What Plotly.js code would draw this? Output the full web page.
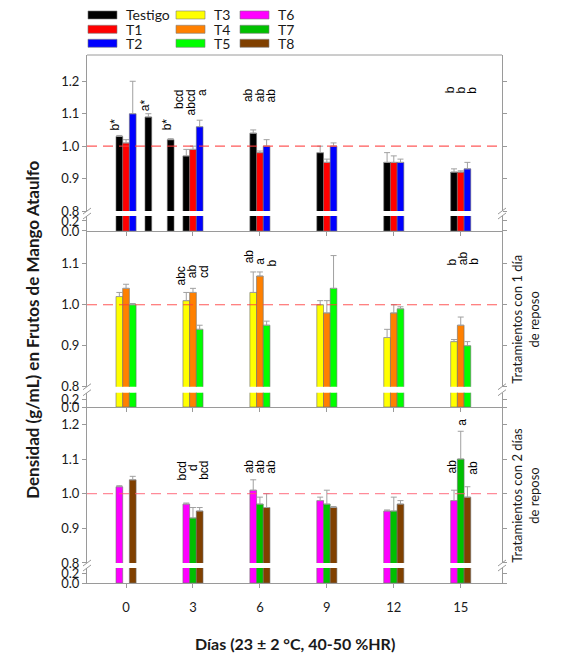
<!DOCTYPE html>
<html>
<head>
<meta charset="utf-8">
<script src="https://cdn.plot.ly/plotly-3.0.1.min.js"></script>
<style>
  html, body { margin: 0; padding: 0; background: #ffffff; }
  #chart { width: 569px; height: 655px; }
</style>
</head>
<body>
<div id="chart"></div>
<script>

// Days of storage
const days = [0, 3, 6, 9, 12, 15];
const testigoDays = [0, 1, 2, 3, 6, 9, 12, 15];
const t7Days = [3, 6, 9, 12, 15];

// Density (g/mL) and upper error bar of every treatment
const testigo = [1.03, 1.09, 1.02, 0.97, 1.04, 0.98, 0.95, 0.92];
const testigoErr = [0.003, 0.01, 0.003, 0.02, 0.01, 0.02, 0.03, 0.01];
const t1 = [1.01, 0.99, 0.98, 0.95, 0.95, 0.92];
const t1Err = [0.01, 0.01, 0.005, 0.01, 0.02, 0.004];
const t2 = [1.10, 1.06, 1.00, 1.00, 0.95, 0.93];
const t2Err = [0.10, 0.02, 0.02, 0.01, 0.01, 0.02];
const t3 = [1.02, 1.01, 1.03, 1.00, 0.92, 0.91];
const t3Err = [0.01, 0.02, 0.05, 0.01, 0.02, 0.005];
const t4 = [1.04, 1.03, 1.07, 0.98, 0.98, 0.95];
const t4Err = [0.01, 0.01, 0.01, 0.03, 0.02, 0.02];
const t5 = [1.00, 0.94, 0.95, 1.04, 0.99, 0.90];
const t5Err = [0.003, 0.01, 0.01, 0.08, 0.005, 0.01];
const t6 = [1.02, 0.97, 1.01, 0.98, 0.95, 0.98];
const t6Err = [0.003, 0.003, 0.03, 0.01, 0.003, 0.03];
const t7 = [0.93, 0.97, 0.97, 0.95, 1.10];
const t7Err = [0.03, 0.02, 0.04, 0.04, 0.08];
const t8 = [1.04, 0.95, 0.96, 0.96, 0.97, 0.99];
const t8Err = [0.01, 0.01, 0.04, 0.003, 0.01, 0.03];

const names = ['Testigo', 'T1', 'T2', 'T3', 'T4', 'T5', 'T6', 'T7', 'T8'];
const colors = ['#000000', '#ff0000', '#0000ff', '#ffff00', '#ff8000', '#00ff00', '#ff00ff', '#00c000', '#804000'];

const sideTexts = ['', 'Tratamientos con 1 día<br>de reposo', 'Tratamientos con 2 días<br>de reposo'];

// Significance letters: [day, slot, text, density at lower end of text]
const letters1 = [
  [0, -1, 'b*', 1.045], [1, -0.35, 'a*', 1.106], [2, -0.35, 'b*', 1.045],
  [3, -1.2, 'bcd', 1.112], [3, -0.2, 'abcd', 1.091], [3, 0.8, 'a', 1.153],
  [6, -1, 'ab', 1.132], [6, 0, 'ab', 1.132], [6, 1, 'ab', 1.132],
  [15, -1, 'b', 1.16], [15, 0, 'b', 1.16], [15, 1, 'b', 1.16]
];
const letters2 = [
  [3, -1.1, 'abc', 1.045], [3, -0.1, 'ab', 1.062], [3, 1, 'cd', 1.062],
  [6, -1, 'ab', 1.098], [6, 0, 'a', 1.096], [6, 1.1, 'b', 1.09],
  [15, -0.8, 'b', 1.094], [15, 0.2, 'ab', 1.094], [15, 1.2, 'b', 1.094]
];
const letters3 = [
  [3, -1, 'bcd', 1.036], [3, 0, 'd', 1.064], [3, 1, 'bcd', 1.036],
  [6, -1, 'ab', 1.055], [6, 0, 'ab', 1.055], [6, 1, 'ab', 1.055],
  [15, -0.8, 'ab', 1.055], [15, 0.1, 'a', 1.194], [15, 1.1, 'ab', 1.052]
];

let series = [
  {x: testigoDays, y: testigo, err: testigoErr},
  {x: days, y: t1, err: t1Err},
  {x: days, y: t2, err: t2Err},
  {x: days, y: t3, err: t3Err},
  {x: days, y: t4, err: t4Err},
  {x: days, y: t5, err: t5Err},
  {x: days, y: t6, err: t6Err},
  {x: t7Days, y: t7, err: t7Err},
  {x: days, y: t8, err: t8Err}
];
let letters = [letters1, letters2, letters3];

// Broken y axis: an upper part (0.8 and up) and a short lower part (0 - 0.2)
let upperDomains = [[0.7045, 1], [0.3718, 0.6667], [0.0379, 0.3333]];
let lowerDomains = [[0.6667, 0.6951], [0.3333, 0.3604], [0, 0.0284]];
let upperRanges = [[0.8, 1.281], [0.8, 1.18], [0.8, 1.25]];
let lowerRanges = [[0, 0.3], [0, 0.38], [0, 0.32]];
let upperTicks = [[0.8, 0.9, 1.0, 1.1, 1.2], [0.8, 0.9, 1.0, 1.1], [0.8, 0.9, 1.0, 1.1, 1.2]];
let refLineCols = ['rgba(255,60,60,0.85)', 'rgba(255,60,60,0.85)', 'rgba(255,90,110,0.7)'];

let barWidth = 0.3;
let axisGrey = '#9a9a9a';
let textCol = '#1a1a1a';
let tickFont = {family: 'Lato, sans-serif', size: 13, color: textCol};

let sfx = n => (n === 1 ? '' : String(n));

let data = [];
series.forEach((s, i) => {
  let p = Math.floor(i / 3);
  let slot = i % 3 - 1;
  // lone bars (Testigo on days 1 and 2) sit in the middle slot
  let offset = s.x.map(d => (d === 1 || d === 2 ? 0 : slot) * barWidth - barWidth / 2);
  let base = {
    type: 'bar',
    x: s.x,
    y: s.y,
    name: names[i],
    width: barWidth,
    offset: offset,
    xaxis: 'x' + sfx(p + 1),
    showlegend: false,
    hoverinfo: 'x+y+name',
    marker: {color: colors[i], line: {color: '#6e6e6e', width: 0.6}}
  };
  // upper part with error bars
  data.push(Object.assign({}, base, {
    yaxis: 'y' + sfx(2 * p + 1),
    error_y: {
      type: 'data', symmetric: false, array: s.err,
      arrayminus: s.err.map(() => 0),
      color: '#a0a0a0', thickness: 1, width: 3
    }
  }));
  // lower part
  data.push(Object.assign({}, base, {yaxis: 'y' + sfx(2 * p + 2)}));
});

let layout = {
  width: 569,
  height: 655,
  margin: {l: 87, r: 67, t: 55, b: 72},
  paper_bgcolor: '#ffffff',
  plot_bgcolor: 'rgba(0,0,0,0)',
  barmode: 'overlay',
  font: {family: 'Lato, sans-serif', color: textCol},
  shapes: [],
  annotations: []
};

let pxX = 1 / 415;
let pxY = 1 / 528;

for (let p = 0; p < 3; p++) {
  let xa = 'xaxis' + sfx(p + 1);
  let yU = 2 * p + 1;
  let yL = 2 * p + 2;

  layout[xa] = {
    domain: [0, 1],
    anchor: 'y' + sfx(yL),
    range: [-1.75, 16.85],
    tickmode: 'array',
    tickvals: days,
    ticktext: days.map(String),
    showticklabels: p === 2,
    ticks: 'outside',
    ticklen: 4,
    tickcolor: axisGrey,
    showline: true,
    linecolor: axisGrey,
    linewidth: 1,
    zeroline: false,
    showgrid: false,
    fixedrange: true,
    ticklabelstandoff: 8,
    tickfont: tickFont
  };
  if (p > 0) layout[xa].matches = 'x';

  let yCommon = {
    anchor: 'x' + sfx(p + 1),
    tickmode: 'array',
    ticks: 'outside',
    ticklen: 4,
    tickcolor: axisGrey,
    showline: true,
    linecolor: axisGrey,
    linewidth: 1,
    mirror: 'ticks',
    zeroline: false,
    showgrid: false,
    fixedrange: true,
    tickfont: tickFont
  };
  layout['yaxis' + sfx(yU)] = Object.assign({}, yCommon, {
    domain: upperDomains[p],
    range: upperRanges[p],
    tickvals: upperTicks[p],
    ticktext: upperTicks[p].map(v => v.toFixed(1))
  });
  layout['yaxis' + sfx(yL)] = Object.assign({}, yCommon, {
    domain: lowerDomains[p],
    range: lowerRanges[p],
    tickvals: [0, 0.2],
    ticktext: ['0.0', '0.2']
  });

  // reference line at 1.0
  layout.shapes.push({
    type: 'line', xref: 'paper', yref: 'y' + sfx(yU),
    x0: 0, x1: 1, y0: 1.0, y1: 1.0,
    line: {color: refLineCols[p], width: 1.2, dash: '10px,6px'}
  });

  // axis break marks on both sides
  [0, 1].forEach(xp => {
    [upperDomains[p][0], lowerDomains[p][1]].forEach(yp => {
      layout.shapes.push({
        type: 'line', xref: 'paper', yref: 'paper',
        x0: xp - 4 * pxX, x1: xp + 4 * pxX,
        y0: yp - 3 * pxY, y1: yp + 3 * pxY,
        line: {color: axisGrey, width: 1}
      });
    });
  });

  // significance letters
  letters[p].forEach(l => {
    layout.annotations.push({
      xref: 'x' + sfx(p + 1), yref: 'y' + sfx(yU),
      x: l[0] + l[1] * 0.5, y: l[3],
      text: l[2], textangle: -90,
      xanchor: 'center', yanchor: 'bottom',
      showarrow: false, borderpad: 0,
      font: {family: 'Liberation Sans, Arial, sans-serif', size: 12, color: '#000000'}
    });
  });

  // side caption
  if (sideTexts[p]) {
    layout.annotations.push({
      xref: 'paper', yref: 'paper',
      x: 1.055, y: (upperDomains[p][1] + lowerDomains[p][0]) / 2,
      text: sideTexts[p], textangle: -90,
      xanchor: 'center', yanchor: 'middle', align: 'center',
      showarrow: false,
      font: {family: 'Lato, sans-serif', size: 13, color: textCol}
    });
  }
}

// top border of the frame
layout.shapes.push({
  type: 'line', xref: 'paper', yref: 'paper',
  x0: 0, x1: 1, y0: 1, y1: 1,
  line: {color: axisGrey, width: 1}
});

// legend drawn as 3 columns of wide swatches
let legendCols = [0.0024, 0.2145, 0.3687];
let legendRows = [1.0758, 1.0487, 1.0222];
names.forEach((name, i) => {
  let c = Math.floor(i / 3);
  let r = i % 3;
  let x0 = legendCols[c];
  let yc = legendRows[r];
  layout.shapes.push({
    type: 'rect', xref: 'paper', yref: 'paper',
    x0: x0, x1: x0 + 29 * pxX,
    y0: yc - 4 * pxY, y1: yc + 4 * pxY,
    fillcolor: colors[i],
    line: {color: '#7a7a7a', width: 0.6}
  });
  layout.annotations.push({
    xref: 'paper', yref: 'paper',
    x: x0 + 37 * pxX, y: yc,
    text: name, xanchor: 'left', yanchor: 'middle',
    showarrow: false, borderpad: 0,
    font: {family: 'Lato, sans-serif', size: 14, color: textCol}
  });
});

// axis titles
layout.annotations.push({
  xref: 'paper', yref: 'paper',
  x: 0.5, y: -0.1155,
  text: '<b>Días (23 ± 2 °C, 40-50 %HR)</b>',
  xanchor: 'center', yanchor: 'middle', showarrow: false,
  font: {family: 'Lato, sans-serif', size: 16, color: textCol}
});
layout.annotations.push({
  xref: 'paper', yref: 'paper',
  x: -0.132, y: 0.48,
  text: '<b>Densidad (g/mL) en Frutos de Mango Ataulfo</b>',
  textangle: -90,
  xanchor: 'center', yanchor: 'middle', showarrow: false,
  font: {family: 'Lato, sans-serif', size: 17, color: textCol}
});

Plotly.newPlot('chart', data, layout, {displayModeBar: false, responsive: false});

</script>
</body>
</html>
